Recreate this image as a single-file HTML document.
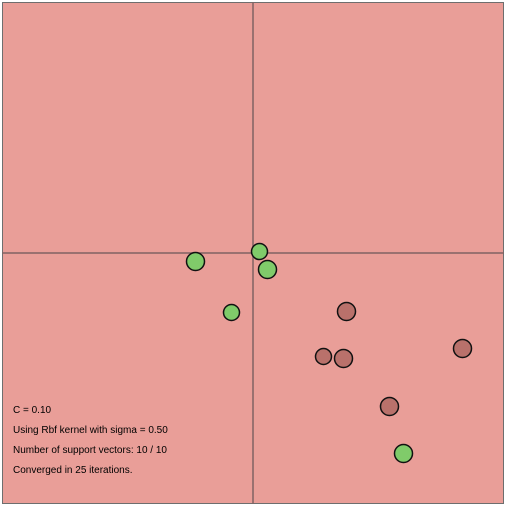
<!DOCTYPE html>
<html><head><meta charset="utf-8"><style>
html,body{margin:0;padding:0;background:#fff;width:506px;height:508px;overflow:hidden}
svg{position:absolute;left:0;top:0}
text{font-family:"Liberation Sans",sans-serif;font-size:10px;fill:#000}
</style></head><body>
<svg id="chart" width="506" height="508">
<rect x="2.5" y="2.5" width="501" height="501" fill="#e99e98" stroke="#6e6e6e" stroke-width="1"/>
<line x1="2" y1="253" x2="504" y2="253" stroke="#806262" stroke-width="1.5"/>
<line x1="253" y1="2" x2="253" y2="504" stroke="#806262" stroke-width="1.5"/>
<g id="pts"></g>
<text x="13" y="413">C = 0.10</text>
<text x="13" y="433">Using Rbf kernel with sigma = 0.50</text>
<text x="13" y="453">Number of support vectors: 10 / 10</text>
<text x="13" y="473">Converged in 25 iterations.</text>
</svg>
<script>
const xs=[-1.16,0.12,0.28,-0.44,1.86,1.40,1.80,4.18,2.72,3.00];
const ys=[-0.16,0.04,-0.32,-1.18,-1.16,-2.06,-2.10,-1.90,-3.06,-4.00];
const labels=[1,1,1,1,-1,-1,-1,-1,-1,1];
const radii=[9,8,9,8,9,8,9,9,9,9];
const sx=v=>253.5+v*50, sy=v=>253.5-v*50;
const g=document.getElementById('pts');
for(let i=0;i<xs.length;i++){
 const c=document.createElementNS('http://www.w3.org/2000/svg','circle');
 c.setAttribute('cx',sx(xs[i]));c.setAttribute('cy',sy(ys[i]));c.setAttribute('r',radii[i]);
 c.setAttribute('fill',labels[i]>0?'#80cb6a':'#b9716b');
 c.setAttribute('stroke','#111');c.setAttribute('stroke-width','1.5');
 
 
 g.appendChild(c);
}
</script>
</body></html>
